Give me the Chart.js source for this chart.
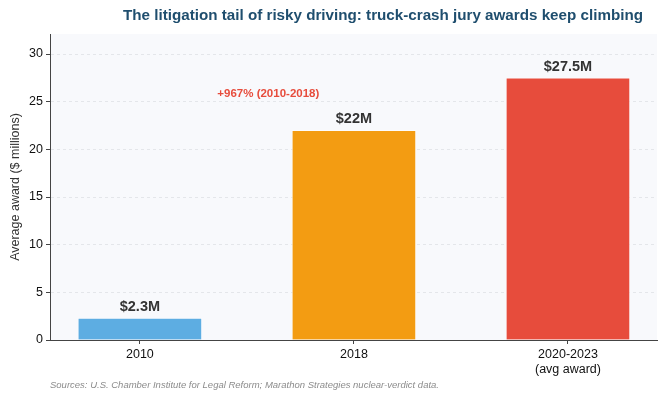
<!DOCTYPE html>
<html><head><meta charset="utf-8">
<script src="https://cdn.jsdelivr.net/npm/chart.js@4.4.1/dist/chart.umd.min.js"></script>
<style>html,body{margin:0;padding:0;background:#fff}#wrap{width:667px;height:400px}</style>
</head><body><div id="wrap"><canvas id="c" width="667" height="400"></canvas></div>
<script>
const categories = [["2010"], ["2018"], ["2020-2023", "(avg award)"]];
const awards = [2.3, 22, 27.5];
const valueLabels = ["$2.3M", "$22M", "$27.5M"];
const barColors = ["#5dade2", "#f39c12", "#e74c3c"];
const yTicks = [0, 5, 10, 15, 20, 25, 30];
const annotationText = "+967% (2010-2018)";
const annotationPos = [0.6, 25.8];
const titleText = "The litigation tail of risky driving: truck-crash jury awards keep climbing";
const sourceText = "Sources: U.S. Chamber Institute for Legal Reform; Marathon Strategies nuclear-verdict data.";

const FONT = "'Liberation Sans', Arial, sans-serif";

const decor = {
  id: 'decor',
  beforeDraw(chart) {
    const {ctx, chartArea: a} = chart;
    ctx.save();
    ctx.fillStyle = '#f8f9fc';
    ctx.fillRect(a.left, a.top, a.right - a.left, a.bottom - a.top);
    ctx.restore();
  },
  afterDatasetsDraw(chart) {
    const {ctx} = chart;
    const xs = chart.scales.x, ys = chart.scales.y;
    ctx.save();
    ctx.textAlign = 'center';
    ctx.textBaseline = 'bottom';
    ctx.fillStyle = '#333333';
    ctx.font = "bold 14.5px " + FONT;
    awards.forEach((v, i) => {
      ctx.fillText(valueLabels[i], xs.getPixelForValue(i), ys.getPixelForValue(v) - 4);
    });
    ctx.fillStyle = '#e74c3c';
    ctx.font = "bold 11.5px " + FONT;
    ctx.textBaseline = 'middle';
    ctx.fillText(annotationText, xs.getPixelForValue(annotationPos[0]), ys.getPixelForValue(annotationPos[1]));
    // title
    ctx.fillStyle = '#1f4e6e';
    ctx.font = "bold 15.2px " + FONT;
    ctx.fillText(titleText, 383, 16);
    // source
    ctx.textAlign = 'left';
    ctx.fillStyle = '#8c8c8c';
    ctx.font = "italic 9.5px " + FONT;
    ctx.fillText(sourceText, 50, 385);
    // y title
    ctx.translate(16, 187);
    ctx.rotate(-Math.PI / 2);
    ctx.textAlign = 'center';
    ctx.fillStyle = '#333333';
    ctx.font = "12.5px " + FONT;
    ctx.fillText("Average award ($ millions)", 0, 0);
    ctx.restore();
  }
};

new Chart(document.getElementById('c'), {
  type: 'bar',
  data: {
    datasets: [{
      data: awards.map((v, i) => ({x: i, y: v})),
      backgroundColor: barColors,
      borderColor: 'rgba(255,255,255,0.5)',
      borderWidth: 1,
      barThickness: 124
    }]
  },
  options: {
    responsive: false,
    animation: false,
    devicePixelRatio: 1,
    layout: {padding: {top: 34, right: 10, bottom: 0, left: 0}},
    plugins: {legend: {display: false}, tooltip: {enabled: false}},
    scales: {
      x: {
        type: 'linear',
        offset: false,
        min: -0.42, max: 2.416,
        afterBuildTicks(s) { s.ticks = categories.map((c, i) => ({value: i})); },
        afterFit(s) { s.height = 60; },
        ticks: {
          callback: (v) => categories[v] || '',
          color: '#111', font: {family: FONT, size: 12.5}, padding: 3, autoSkip: false, maxRotation: 0
        },
        grid: {offset: false, drawOnChartArea: false, tickLength: 4, color: '#444', tickColor: '#444'},
        border: {color: '#444', width: 1}
      },
      y: {
        min: 0, max: 32.1,
        afterBuildTicks(s) { s.ticks = yTicks.map(v => ({value: v})); },
        afterFit(s) { s.width = 50; },
        ticks: {color: '#111', font: {family: FONT, size: 12.5}, padding: 3},
        grid: {color: '#e4e6ea', tickColor: '#444', tickLength: 4, drawTicks: true},
        border: {color: '#444', width: 1, dash: [3,3]}
      }
    }
  },
  plugins: [decor]
});
</script></body></html>
